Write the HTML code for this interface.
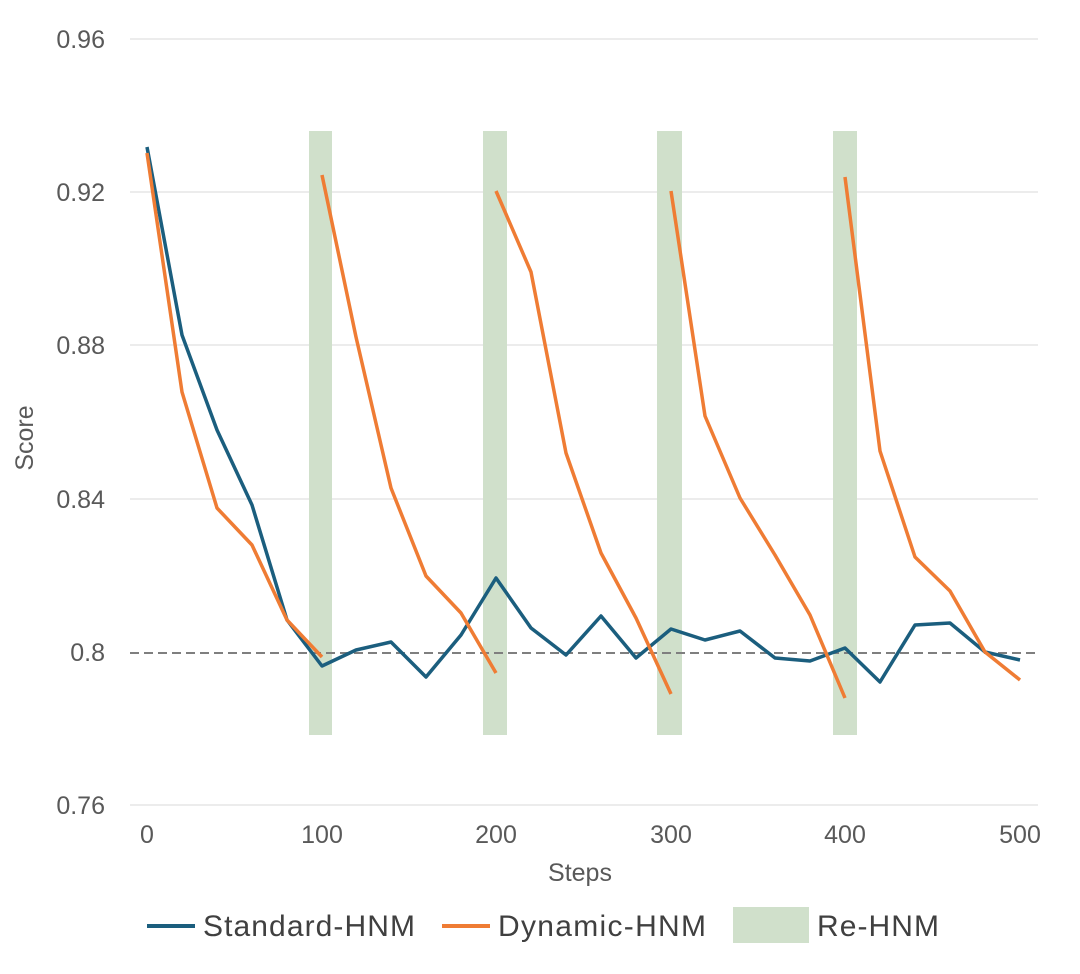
<!DOCTYPE html>
<html><head><meta charset="utf-8"><style>body{margin:0;background:#fff}</style></head><body>
<svg width="1080" height="969" xmlns="http://www.w3.org/2000/svg" font-family="Liberation Sans, sans-serif">
<g stroke="#d9d9d9" stroke-width="1">
<line x1="130" y1="39" x2="1038" y2="39"/><line x1="130" y1="192" x2="1038" y2="192"/>
<line x1="130" y1="345" x2="1038" y2="345"/><line x1="130" y1="499" x2="1038" y2="499"/>
<line x1="130" y1="805" x2="1038" y2="805"/></g>
<g fill="#d0e0cb">
<rect x="309" y="131" width="23" height="604"/><rect x="483" y="131" width="24" height="604"/>
<rect x="657" y="131" width="25" height="604"/><rect x="833" y="131" width="24" height="604"/></g>
<line x1="130" y1="653" x2="1038" y2="653" stroke="#7f7f7f" stroke-width="2" stroke-dasharray="9,5"/>
<polyline fill="none" stroke="#1b5e7e" stroke-width="3.5" stroke-linejoin="round" points="147,147 182,335 217,430 252,505 287,620 322,666 356,650 391,642 426,677 461,635 496,578 531,628 566,655 601,616 636,658 671,629 705,640 740,631 775,658 810,661 845,648 880,682 915,625 950,623 985,652 1020,660"/>
<g fill="none" stroke="#ef7c34" stroke-width="3.5" stroke-linejoin="round">
<polyline points="147,153 182,392 217,508 252,545 287,620 322,657"/>
<polyline points="322,175 356,337 391,488 426,576 461,613 496,673"/>
<polyline points="496,191 531,272 566,453 601,553 636,618 671,694"/>
<polyline points="671,191 705,416 740,498 775,555 810,615 845,698"/>
<polyline points="845,177 880,451 915,557 950,591 985,652 1020,680"/></g>
<g fill="#595959" font-size="25" text-anchor="end">
<text x="105" y="48">0.96</text><text x="105" y="201">0.92</text><text x="105" y="354">0.88</text>
<text x="105" y="508">0.84</text><text x="105" y="661">0.8</text><text x="105" y="814">0.76</text></g>
<g fill="#595959" font-size="25" text-anchor="middle">
<text x="147" y="843">0</text><text x="322" y="843">100</text><text x="496" y="843">200</text>
<text x="671" y="843">300</text><text x="845" y="843">400</text><text x="1020" y="843">500</text>
<text x="580" y="881">Steps</text>
<text transform="translate(33,438) rotate(-90)">Score</text></g>
<line x1="147" y1="926" x2="195" y2="926" stroke="#1b5e7e" stroke-width="4"/>
<text x="203" y="936" font-size="30" fill="#404040" textLength="212">Standard-HNM</text>
<line x1="442" y1="926" x2="490" y2="926" stroke="#ef7c34" stroke-width="4"/>
<text x="498" y="936" font-size="30" fill="#404040" textLength="208">Dynamic-HNM</text>
<rect x="733" y="907" width="76" height="36" fill="#d0e0cb"/>
<text x="817" y="936" font-size="30" fill="#404040" textLength="122">Re-HNM</text>
</svg></body></html>
